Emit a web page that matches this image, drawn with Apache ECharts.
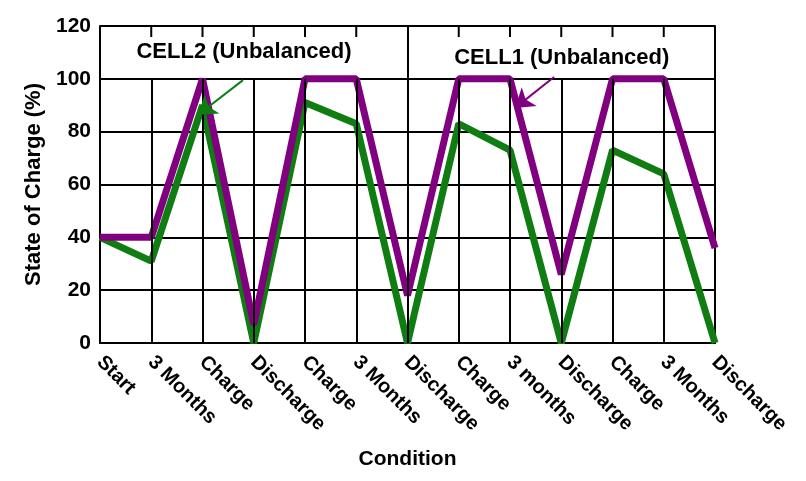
<!DOCTYPE html>
<html>
<head>
<meta charset="utf-8">
<script src="https://cdn.jsdelivr.net/npm/echarts@6/dist/echarts.min.js"></script>
<style>html,body{margin:0;padding:0;background:#fff}#c{width:806px;height:481px}</style>
</head>
<body>
<div id="c"></div>
<script>
// ---- data ----
var categories = ['Start','3 Months','Charge','Discharge','Charge','3 Months','Discharge','Charge','3 months','Discharge','Charge','3 Months','Discharge'];
var cell1Values = [40, 40, 100, 7, 100, 100, 18, 100, 100, 26, 100, 100, 36];   // purple
var cell2Values = [40, 31, 90, 0, 91, 83, 0, 83, 73, 0, 73, 64, 0];             // green
var yTicks = [0, 20, 40, 60, 80, 100, 120];
var annotationTexts = ['CELL2 (Unbalanced)', 'CELL1 (Unbalanced)'];
var annotationPos = [[2.81, 110], [9.01, 108]];            // in (category index, %) units
var arrowFrom = [[2.79, 99.5], [8.86, 100.7]];
var arrowTo = [[1.91, 86.3], [8.10, 89]];
var fullGridIndex = 6;  // vertical grid line that extends to the top

var PURPLE = '#800080', GREEN = '#0f7d12', FONT = 'Liberation Sans, Arial, sans-serif';
var yMax = yTicks[yTicks.length - 1];

var gridLines = [];
for (var i = 1; i < categories.length - 1; i++) {
  gridLines.push([{coord: [i, 0]}, {coord: [i, i === fullGridIndex ? yMax : 100]}]);
}
var arrows = arrowFrom.map(function (p, k) {
  return [{coord: p, symbol: 'none', lineStyle: {color: k === 0 ? GREEN : PURPLE}},
          {coord: arrowTo[k], symbol: 'arrow', symbolSize: 18}];
});
var labels = annotationTexts.map(function (t, k) {
  return {coord: annotationPos[k], value: t};
});

var chart = echarts.init(document.getElementById('c'), null, {renderer: 'canvas'});
chart.setOption({
  animation: false,
  backgroundColor: '#fff',
  grid: {left: 100, right: 91, top: 26, bottom: 138, containLabel: false},
  xAxis: [{
    type: 'category', data: categories, boundaryGap: false, position: 'bottom',
    axisLine: {show: true, lineStyle: {color: '#000', width: 2}},
    axisTick: {show: false},
    splitLine: {show: false},
    axisLabel: {rotate: -45, margin: 16, color: '#000', fontSize: 20, fontWeight: 'bold', fontFamily: FONT, interval: 0},
    name: 'Condition', nameLocation: 'middle', nameGap: 106,
    nameTextStyle: {color: '#000', fontSize: 21, fontWeight: 'bold', fontFamily: FONT}
  }, {
    type: 'value', min: 0, max: categories.length - 1, show: false, position: 'top'
  }],
  yAxis: [{
    type: 'value', min: 0, max: yMax, interval: 20,
    axisLine: {show: true, lineStyle: {color: '#000', width: 2}},
    axisTick: {show: false},
    splitLine: {show: true, lineStyle: {color: '#000', width: 2}},
    axisLabel: {color: '#000', fontSize: 21, fontWeight: 'bold', fontFamily: FONT, margin: 9},
    name: 'State of Charge (%)', nameLocation: 'middle', nameGap: 55,
    nameTextStyle: {color: '#000', fontSize: 22, fontWeight: 'bold', fontFamily: FONT}
  }, {
    type: 'value', min: 0, max: yMax, interval: 20, position: 'right',
    axisLine: {show: true, lineStyle: {color: '#000', width: 2}},
    axisTick: {show: false}, axisLabel: {show: false}, splitLine: {show: false}
  }],
  series: [{
    type: 'line', xAxisIndex: 1, yAxisIndex: 0, data: [], silent: true,
    markLine: {silent: true, symbol: 'none', animation: false, label: {show: false},
      lineStyle: {color: '#000', width: 2, type: 'solid'}, data: gridLines}
  }, {
    name: 'CELL2', type: 'line', xAxisIndex: 0, data: cell2Values, showSymbol: false, symbol: 'none',
    lineStyle: {color: GREEN, width: 7, join: 'bevel'}, z: 3
  }, {
    name: 'CELL1', type: 'line', xAxisIndex: 0, data: cell1Values, showSymbol: false, symbol: 'none',
    lineStyle: {color: PURPLE, width: 7, join: 'bevel'}, z: 4
  }, {
    type: 'line', xAxisIndex: 1, yAxisIndex: 0, data: [], silent: true, z: 5,
    markLine: {silent: true, animation: false, label: {show: false},
      lineStyle: {width: 2, type: 'solid'}, data: arrows},
    markPoint: {silent: true, animation: false, symbol: 'circle', symbolSize: 0,
      label: {show: true, position: 'inside', formatter: '{c}', color: '#000', fontSize: 22, fontWeight: 'bold', fontFamily: FONT},
      itemStyle: {color: 'transparent'}, data: labels}
  }]
});

// top-edge inward tick marks, positioned through the category axis
var ticks = [];
for (var j = 1; j < categories.length - 1; j++) {
  if (j === fullGridIndex) continue;
  var p = chart.convertToPixel({xAxisIndex: 0, yAxisIndex: 0}, [j, yMax]);
  ticks.push({type: 'line', silent: true, z: 10,
    shape: {x1: p[0], y1: p[1], x2: p[0], y2: p[1] + 11},
    style: {stroke: '#000', lineWidth: 2}});
}
chart.setOption({graphic: ticks});
</script>
</body>
</html>
